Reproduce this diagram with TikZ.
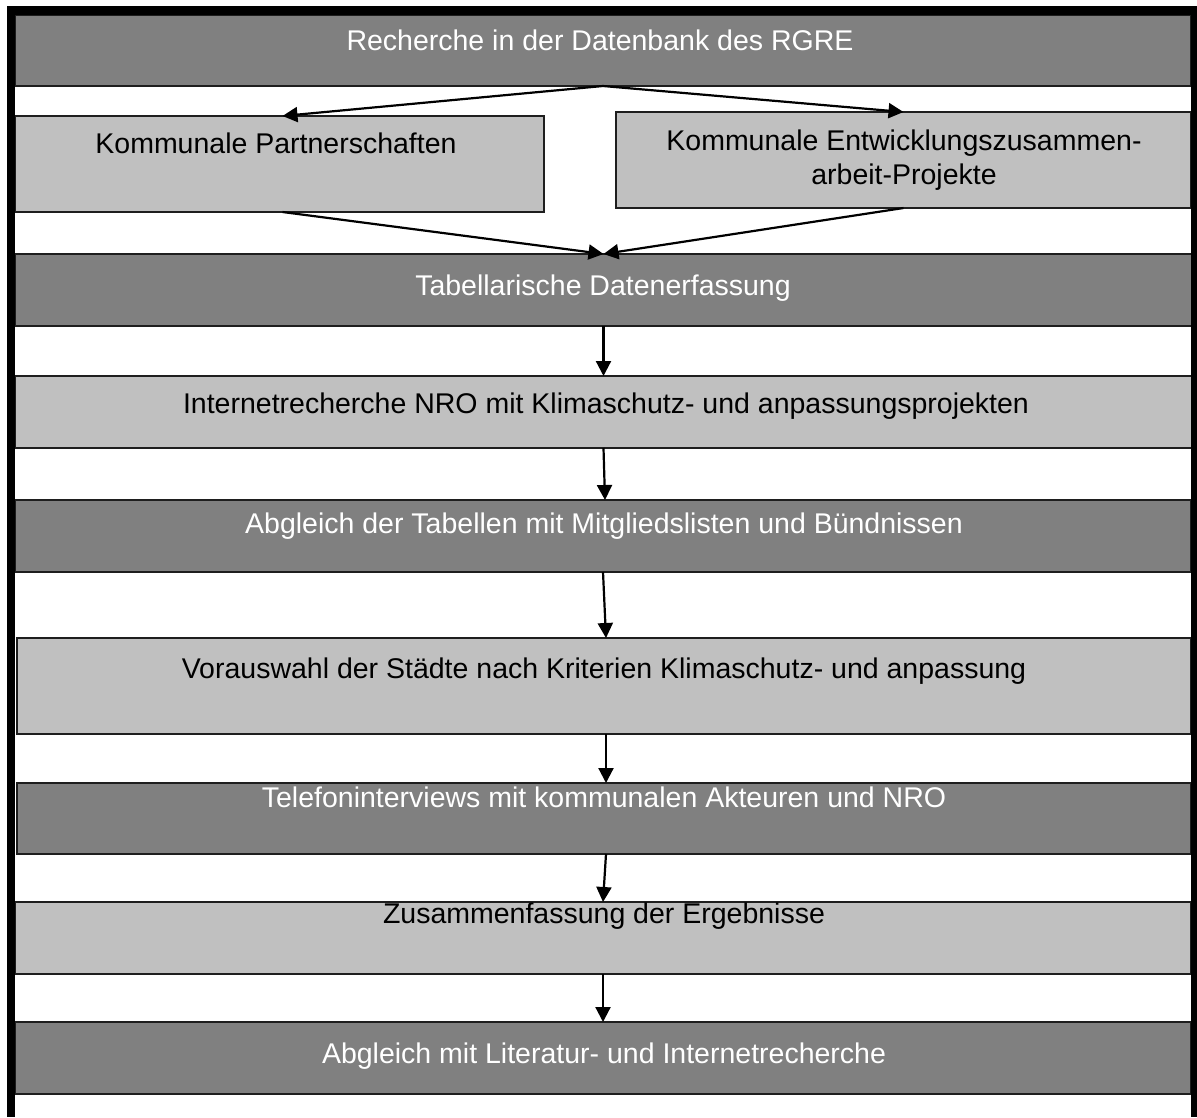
\documentclass[tikz,border=0pt]{standalone}
\usepackage{fontspec}
\setmainfont{Liberation Sans}
\usetikzlibrary{arrows.meta,calc}
\definecolor{boxdark}{RGB}{128,128,128}
\definecolor{boxlight}{RGB}{192,192,192}
\definecolor{edge}{RGB}{30,30,30}
\begin{document}
\begin{tikzpicture}[x=1pt,y=-1pt,
  box/.style={draw=edge, line width=1.6pt, inner sep=0pt, outer sep=0pt, anchor=north west},
  darkbox/.style={box, fill=boxdark},
  lightbox/.style={box, fill=boxlight},
  dtext/.style={text=white, font=\fontsize{28.5}{34}\selectfont, inner sep=0pt, anchor=base, align=center},
  ltext/.style={dtext, text=black},
  arr/.style={-{Triangle[width=15pt,length=15pt]}, line width=2.2pt}]
\useasboundingbox (0,0) rectangle (1197,1117);
\begin{scope}
\clip (0,0) rectangle (1197,1117);
% boxes
\node[darkbox, minimum width=1176pt, minimum height=71pt] (rech) at (15,15) {};
\node[lightbox, minimum width=529pt, minimum height=96pt] (kp) at (15,116) {};
\node[lightbox, minimum width=575pt, minimum height=96pt] (ke) at (616,112) {};
\node[darkbox, minimum width=1177pt, minimum height=72pt] (tab) at (15,254) {};
\node[lightbox, minimum width=1177pt, minimum height=72pt] (int) at (15,376) {};
\node[darkbox, minimum width=1176pt, minimum height=72pt] (abg) at (15,500) {};
\node[lightbox, minimum width=1174pt, minimum height=96pt] (vor) at (17,638) {};
\node[darkbox, minimum width=1174pt, minimum height=71pt] (tel) at (17,783) {};
\node[lightbox, minimum width=1176pt, minimum height=72pt] (zus) at (15,902) {};
\node[darkbox, minimum width=1176pt, minimum height=72pt] (lit) at (15,1022) {};
% texts
\node[dtext] (trech) at (600,50) {Recherche in der Datenbank des RGRE};
\node[ltext] (tkp) at (276,153) {Kommunale Partnerschaften};
\node[ltext] (tke) at (904,184) {Kommunale Entwicklungszusammen-\\arbeit-Projekte};
\node[dtext] (ttab) at (603,295) {Tabellarische Datenerfassung};
\node[ltext] (tint) at (606,413) {Internetrecherche NRO mit Klimaschutz- und anpassungsprojekten};
\node[dtext] (tabg) at (604,533) {Abgleich der Tabellen mit Mitgliedslisten und Bündnissen};
\node[ltext] (tvor) at (604,678) {Vorauswahl der Städte nach Kriterien Klimaschutz- und anpassung};
\node[dtext] (ttel) at (604,807) {Telefoninterviews mit kommunalen Akteuren und NRO};
\node[ltext] (tzus) at (604,923) {Zusammenfassung der Ergebnisse};
\node[dtext] (tlit) at (604,1063) {Abgleich mit Literatur- und Internetrecherche};
% arrows
\draw[arr] (rech.south) -- ([xshift=3pt]kp.north);
\draw[arr] (rech.south) -- (ke.north);
\draw[arr] ([xshift=3pt]kp.south) -- (tab.north);
\draw[arr] (ke.south) -- (tab.north);
\draw[arr] (tab.south) -- (int.north);
\draw[arr] (int.south) -- ([xshift=2pt]abg.north);
\draw[arr] (abg.south) -- ([xshift=2pt]vor.north);
\draw[arr] ([xshift=2pt]vor.south) -- ([xshift=2pt]tel.north);
\draw[arr] ([xshift=2pt]tel.south) -- (zus.north);
\draw[arr] (zus.south) -- (lit.north);
% frame
\draw[line width=8.5pt] (11,10.5) -- (1195,10.5);
\draw[line width=8.5pt] (11,6.25) -- (11,1117);
\draw[line width=8.5pt] (1195,6.25) -- (1195,1117);
\end{scope}
\end{tikzpicture}
\end{document}
